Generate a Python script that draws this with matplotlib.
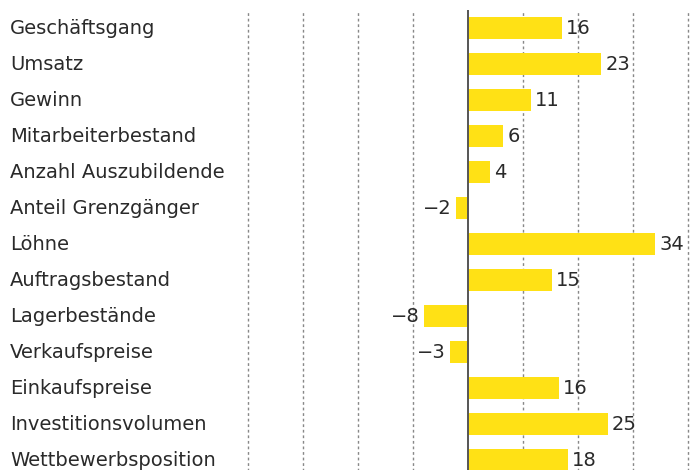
import numpy as np
import matplotlib.pyplot as plt

categories = ["Geschäftsgang", "Umsatz", "Gewinn", "Mitarbeiterbestand",
              "Anzahl Auszubildende", "Anteil Grenzgänger", "Löhne",
              "Auftragsbestand", "Lagerbestände", "Verkaufspreise",
              "Einkaufspreise", "Investitionsvolumen", "Wettbewerbsposition"]
values = [17.1, 24.2, 11.4, 6.4, 4.0, -2.2, 34.0, 15.3, -8.0, -3.3, 16.5, 25.4, 18.1]
labels = ["16", "23", "11", "6", "4", "\u22122", "34", "15", "\u22128", "\u22123",
          "16", "25", "18"]
gridticks = [-40, -30, -20, -10, 10, 20, 30, 40]

W, H = 697, 470
plt.rcParams['font.family'] = ['DejaVu Sans']
fig = plt.figure(figsize=(W / 100, H / 100), dpi=100)
ax = fig.add_axes([248 / W, (H - 478) / H, (688 - 248) / W, 468 / H])

ypos = np.arange(len(categories))
ax.barh(ypos, values, height=0.61, color='#FFE115', zorder=2)

for x in gridticks:
    ax.axvline(x, color='#888888', linestyle=(0, (2, 2)), linewidth=1.0,
               zorder=1, clip_on=False)
ax.axvline(0, color='#555555', linewidth=1.4, zorder=3)

for y, v, lab in zip(ypos, values, labels):
    if v >= 0:
        ax.annotate(lab, (v, y), xytext=(3, 0), textcoords='offset points',
                    ha='left', va='center', fontsize=14, color='#2a2a2a')
    else:
        ax.annotate(lab, (v, y), xytext=(-3, 0), textcoords='offset points',
                    ha='right', va='center', fontsize=14, color='#2a2a2a')

trans = ax.get_yaxis_transform()
for y, c in zip(ypos, categories):
    ax.text(-(248 - 10) / (688 - 248), y, c, transform=trans, ha='left',
            va='center', fontsize=14, color='#2a2a2a')

ax.set_xlim(-40, 40)
ax.set_ylim(len(categories) - 0.5, -0.5)
ax.set_xticks([])
ax.set_yticks([])
for s in ax.spines.values():
    s.set_visible(False)

fig.savefig("out.png", dpi=100)
